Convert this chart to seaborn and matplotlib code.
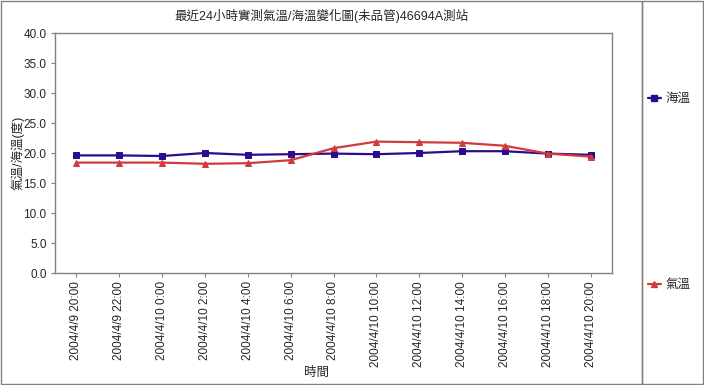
import seaborn as sns
import matplotlib.pyplot as plt
import matplotlib.patches as mpatches
from matplotlib.lines import Line2D
import pandas as pd
import numpy as np

sns.set_style("white")
plt.rcParams['font.family'] = ['Liberation Sans', 'Noto Sans CJK TC', 'DejaVu Sans']

times = ['2004/4/9 20:00', '2004/4/9 22:00', '2004/4/10 0:00', '2004/4/10 2:00',
         '2004/4/10 4:00', '2004/4/10 6:00', '2004/4/10 8:00', '2004/4/10 10:00',
         '2004/4/10 12:00', '2004/4/10 14:00', '2004/4/10 16:00', '2004/4/10 18:00',
         '2004/4/10 20:00']
sea_temp = [19.6, 19.6, 19.5, 20.0, 19.7, 19.8, 19.9, 19.8, 20.0, 20.3, 20.3, 19.9, 19.7]
air_temp = [18.4, 18.4, 18.4, 18.2, 18.3, 18.8, 20.8, 21.9, 21.8, 21.7, 21.2, 19.9, 19.4]

title = '最近24小時實測氣溫/海溫變化圖(未品管)46694A測站'
sea_label = '海溫'
air_label = '氣溫'

sea_color = '#2B0C8E'
air_color = '#D03A3A'
gray = '#808080'

df = pd.DataFrame({'pos': np.arange(len(times)), 'sea': sea_temp, 'air': air_temp})

W, H = 704, 385
fig = plt.figure(figsize=(W / 100, H / 100), dpi=100)
ax = fig.add_axes([55 / W, 112 / H, (612 - 55) / W, (273 - 33) / H])

sns.lineplot(data=df, x='pos', y='sea', ax=ax, color=sea_color, marker='s',
             markersize=4.5, markeredgecolor=sea_color, linewidth=1.6)
sns.lineplot(data=df, x='pos', y='air', ax=ax, color=air_color, marker='^',
             markersize=5, markeredgecolor=air_color, linewidth=1.6)

ax.set_xlim(-0.5, len(times) - 0.5)
ax.set_ylim(0, 40)
ax.set_yticks(np.arange(0, 40.1, 5))
ax.set_yticklabels([f'{v:.1f}' for v in np.arange(0, 40.1, 5)], fontsize=8.5)
ax.set_xticks(np.arange(len(times)))
ax.set_xticklabels(times, rotation=90, fontsize=8.5)
ax.tick_params(axis='both', direction='out', length=3, width=0.8, color=gray,
               left=True, bottom=True, pad=3)
ax.set_xlabel('時間', fontsize=9)
ax.set_ylabel('氣溫/海溫(度)', fontsize=9)
ax.xaxis.set_label_coords(0.47, -0.39)
ax.yaxis.set_label_coords(-0.055, 0.5)
for s in ax.spines.values():
    s.set_color(gray)
    s.set_linewidth(1)

fig.text(322 / W, 1 - 16 / H, title, ha='center', va='center', fontsize=9)

# chart frame and legend box
fig.patches.append(mpatches.Rectangle((1 / W, 1 / H), 641 / W, (H - 2) / H,
                                      transform=fig.transFigure, fill=False,
                                      edgecolor=gray, linewidth=1))
fig.patches.append(mpatches.Rectangle((642 / W, 1 / H), (W - 643) / W, (H - 2) / H,
                                      transform=fig.transFigure, fill=False,
                                      edgecolor=gray, linewidth=1))

h_sea = Line2D([], [], color=sea_color, marker='s', markersize=4.5, linewidth=1.6)
h_air = Line2D([], [], color=air_color, marker='^', markersize=5, linewidth=1.6)
for h, lab, yy in [(h_sea, sea_label, 99), (h_air, air_label, 285)]:
    fig.legend(handles=[h], labels=[lab], loc='center left',
               bbox_to_anchor=(648 / W, 1 - yy / H), frameon=False, fontsize=9,
               handlelength=1.0, handletextpad=0.4, borderaxespad=0, borderpad=0)

fig.savefig('out.png', dpi=100)
